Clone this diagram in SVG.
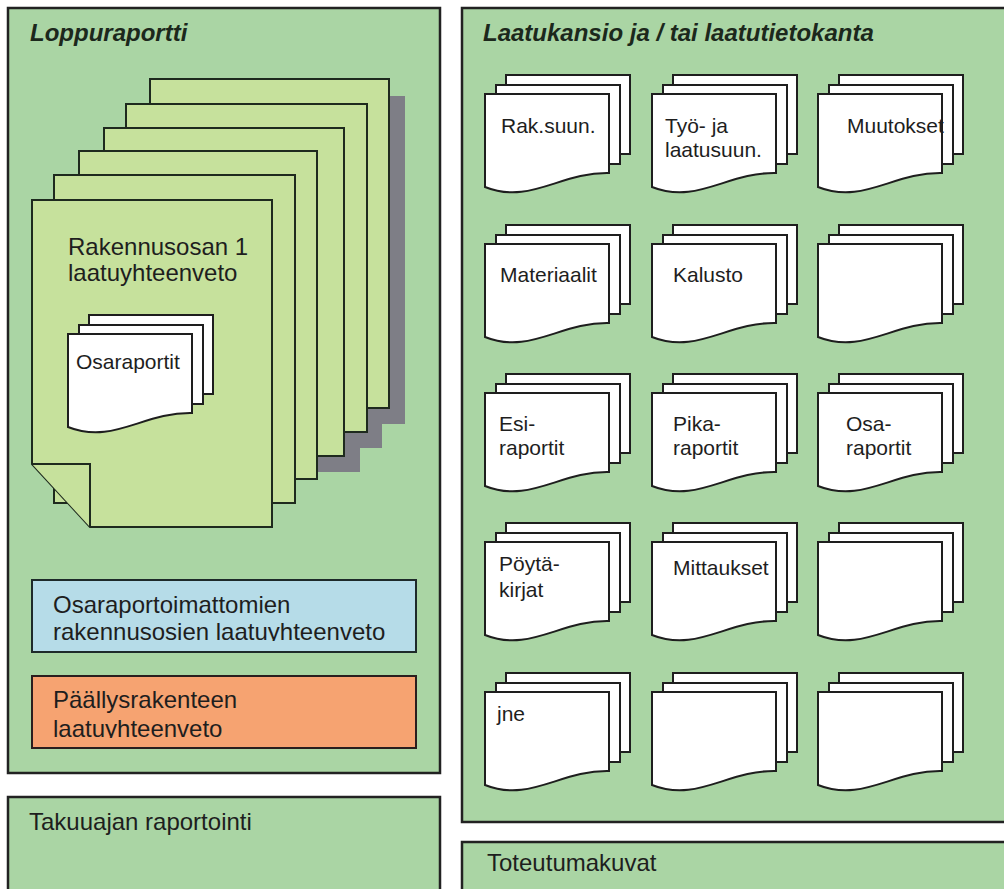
<svg xmlns="http://www.w3.org/2000/svg" xmlns:xlink="http://www.w3.org/1999/xlink" width="1004" height="889" viewBox="0 0 1004 889">
<style>
  .panel { fill: #aad5a4; stroke: #222; stroke-width: 2.5; }
  .page { fill: #c6e19c; stroke: #1e2a1e; stroke-width: 2; }
  .shadow { fill: #7e7e86; }
  .doc { fill: #ffffff; stroke: #1e1e1e; stroke-width: 2; stroke-linejoin: miter; }
  .t { font-family: "Liberation Sans", Arial, sans-serif; fill: #1e1e1e; }
  .title { font-size: 24px; font-weight: bold; font-style: italic; fill: #1c281c; }
  .big { font-size: 24px; }
  .dt { font-size: 21px; }
  .blue { fill: #b6dce8; stroke: #1e2a2a; stroke-width: 2; }
  .orange { fill: #f6a371; stroke: #2a1e1e; stroke-width: 2; }
</style>
<defs>
  <g id="docstack">
    <rect class="doc" x="21" y="-19" width="124" height="79"/>
    <rect class="doc" x="11" y="-9" width="124" height="79"/>
    <path class="doc" d="M0,0 H124 V79 C75,78 45,111 0,93 Z"/>
  </g>
  <clipPath id="clipBlue"><rect x="30" y="578" width="390" height="63"/></clipPath>
  <clipPath id="clipOrange"><rect x="30" y="674" width="390" height="64"/></clipPath>
</defs>
<rect x="0" y="0" width="1004" height="889" fill="#ffffff"/>

<g id="loppuraportti">
  <rect class="panel" x="8" y="8" width="432" height="765"/>
  <text class="t title" x="30" y="41">Loppuraportti</text>
</g>

<g id="rakennusosat">
  <rect class="shadow" x="166" y="96" width="239" height="328"/>
  <rect class="shadow" x="142" y="120" width="240" height="328"/>
  <rect class="shadow" x="120" y="144" width="240" height="328"/>
  <rect class="page" x="150" y="79" width="239" height="329"/>
  <rect class="page" x="126" y="104" width="241" height="328"/>
  <rect class="page" x="104" y="128" width="240" height="328"/>
  <rect class="page" x="79" y="151" width="238" height="328"/>
  <rect class="page" x="54" y="175" width="241" height="328"/>
  <path class="page" d="M32,200 H272 V527 H90 L32,464 Z"/>
  <path class="page" d="M32,464 H90 V527" fill="none"/>
  <text class="t big" x="68" y="255">Rakennusosan 1</text>
  <text class="t big" x="68" y="281">laatuyhteenveto</text>
</g>

<g id="osaraportit-left">
  <use xlink:href="#docstack" href="#docstack" x="68" y="334"/>
  <text class="t dt" x="76" y="369">Osaraportit</text>
</g>

<g id="osaraportoimattomien">
  <rect class="blue" x="32" y="580" width="384" height="72"/>
  <g clip-path="url(#clipBlue)">
    <text class="t big" x="53" y="613">Osaraportoimattomien</text>
    <text class="t big" x="53" y="640">rakennusosien laatuyhteenveto</text>
  </g>
</g>

<g id="paallysrakenne">
  <rect class="orange" x="32" y="676" width="384" height="72"/>
  <g clip-path="url(#clipOrange)">
    <text class="t big" x="53" y="708">Päällysrakenteen</text>
    <text class="t big" x="53" y="737">laatuyhteenveto</text>
  </g>
</g>

<g id="takuuaika">
  <rect class="panel" x="8" y="797" width="432" height="100"/>
  <text class="t big" x="29" y="830">Takuuajan raportointi</text>
</g>

<g id="laatukansio">
  <rect class="panel" x="462" y="8" width="550" height="814"/>
  <text class="t title" x="483" y="41">Laatukansio ja / tai laatutietokanta</text>
</g>

<g id="doc-raksuun"><use href="#docstack" xlink:href="#docstack" x="485" y="94"/><text class="t dt" x="501" y="133">Rak.suun.</text></g>
<g id="doc-tyo"><use href="#docstack" xlink:href="#docstack" x="652" y="94"/><text class="t dt" x="665" y="133">Työ- ja</text><text class="t dt" x="665" y="157">laatusuun.</text></g>
<g id="doc-muutokset"><use href="#docstack" xlink:href="#docstack" x="818" y="94"/><text class="t dt" x="847" y="133">Muutokset</text></g>

<g id="doc-materiaalit"><use href="#docstack" xlink:href="#docstack" x="485" y="244"/><text class="t dt" x="500" y="282">Materiaalit</text></g>
<g id="doc-kalusto"><use href="#docstack" xlink:href="#docstack" x="652" y="244"/><text class="t dt" x="673" y="282">Kalusto</text></g>
<g id="doc-empty1"><use href="#docstack" xlink:href="#docstack" x="818" y="244"/></g>

<g id="doc-esi"><use href="#docstack" xlink:href="#docstack" x="485" y="393"/><text class="t dt" x="499" y="431">Esi-</text><text class="t dt" x="499" y="455">raportit</text></g>
<g id="doc-pika"><use href="#docstack" xlink:href="#docstack" x="652" y="393"/><text class="t dt" x="673" y="431">Pika-</text><text class="t dt" x="673" y="455">raportit</text></g>
<g id="doc-osa"><use href="#docstack" xlink:href="#docstack" x="818" y="393"/><text class="t dt" x="846" y="431">Osa-</text><text class="t dt" x="846" y="455">raportit</text></g>

<g id="doc-poytakirjat"><use href="#docstack" xlink:href="#docstack" x="485" y="542"/><text class="t dt" x="499" y="571">Pöytä-</text><text class="t dt" x="499" y="597">kirjat</text></g>
<g id="doc-mittaukset"><use href="#docstack" xlink:href="#docstack" x="652" y="542"/><text class="t dt" x="673" y="575">Mittaukset</text></g>
<g id="doc-empty2"><use href="#docstack" xlink:href="#docstack" x="818" y="542"/></g>

<g id="doc-jne"><use href="#docstack" xlink:href="#docstack" x="485" y="692"/><text class="t dt" x="497" y="721">jne</text></g>
<g id="doc-empty3"><use href="#docstack" xlink:href="#docstack" x="652" y="692"/></g>
<g id="doc-empty4"><use href="#docstack" xlink:href="#docstack" x="818" y="692"/></g>

<g id="toteutumakuvat">
  <rect class="panel" x="462" y="842" width="550" height="60"/>
  <text class="t big" x="487" y="871">Toteutumakuvat</text>
</g>

<g id="connectors"/>
</svg>
